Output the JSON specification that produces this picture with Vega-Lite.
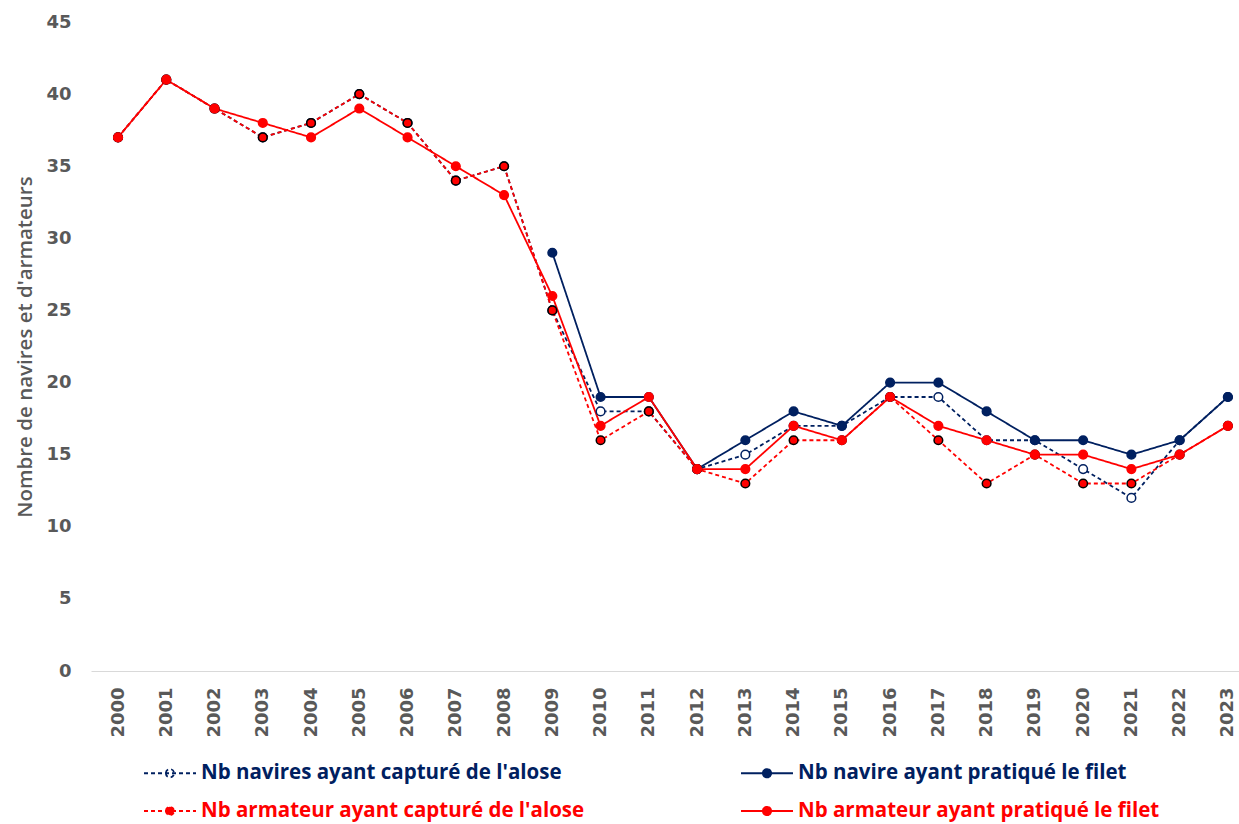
{
  "$schema": "https://vega.github.io/schema/vega-lite/v6.json",
  "width": 1148,
  "height": 649,
  "autosize": "none",
  "padding": {"left": 91, "top": 22, "right": 0, "bottom": 153},
  "background": "white",
  "config": {"view": {"stroke": null}},
  "data": {"values": [
    {"year": 2000, "s": "Nb navires ayant capturé de l'alose", "v": 37},
    {"year": 2001, "s": "Nb navires ayant capturé de l'alose", "v": 41},
    {"year": 2002, "s": "Nb navires ayant capturé de l'alose", "v": 39},
    {"year": 2003, "s": "Nb navires ayant capturé de l'alose", "v": 37},
    {"year": 2004, "s": "Nb navires ayant capturé de l'alose", "v": 38},
    {"year": 2005, "s": "Nb navires ayant capturé de l'alose", "v": 40},
    {"year": 2006, "s": "Nb navires ayant capturé de l'alose", "v": 38},
    {"year": 2007, "s": "Nb navires ayant capturé de l'alose", "v": 34},
    {"year": 2008, "s": "Nb navires ayant capturé de l'alose", "v": 35},
    {"year": 2009, "s": "Nb navires ayant capturé de l'alose", "v": 25},
    {"year": 2010, "s": "Nb navires ayant capturé de l'alose", "v": 18},
    {"year": 2011, "s": "Nb navires ayant capturé de l'alose", "v": 18},
    {"year": 2012, "s": "Nb navires ayant capturé de l'alose", "v": 14},
    {"year": 2013, "s": "Nb navires ayant capturé de l'alose", "v": 15},
    {"year": 2014, "s": "Nb navires ayant capturé de l'alose", "v": 17},
    {"year": 2015, "s": "Nb navires ayant capturé de l'alose", "v": 17},
    {"year": 2016, "s": "Nb navires ayant capturé de l'alose", "v": 19},
    {"year": 2017, "s": "Nb navires ayant capturé de l'alose", "v": 19},
    {"year": 2018, "s": "Nb navires ayant capturé de l'alose", "v": 16},
    {"year": 2019, "s": "Nb navires ayant capturé de l'alose", "v": 16},
    {"year": 2020, "s": "Nb navires ayant capturé de l'alose", "v": 14},
    {"year": 2021, "s": "Nb navires ayant capturé de l'alose", "v": 12},
    {"year": 2022, "s": "Nb navires ayant capturé de l'alose", "v": 16},
    {"year": 2023, "s": "Nb navires ayant capturé de l'alose", "v": 19},
    {"year": 2009, "s": "Nb navire ayant pratiqué le filet", "v": 29},
    {"year": 2010, "s": "Nb navire ayant pratiqué le filet", "v": 19},
    {"year": 2011, "s": "Nb navire ayant pratiqué le filet", "v": 19},
    {"year": 2012, "s": "Nb navire ayant pratiqué le filet", "v": 14},
    {"year": 2013, "s": "Nb navire ayant pratiqué le filet", "v": 16},
    {"year": 2014, "s": "Nb navire ayant pratiqué le filet", "v": 18},
    {"year": 2015, "s": "Nb navire ayant pratiqué le filet", "v": 17},
    {"year": 2016, "s": "Nb navire ayant pratiqué le filet", "v": 20},
    {"year": 2017, "s": "Nb navire ayant pratiqué le filet", "v": 20},
    {"year": 2018, "s": "Nb navire ayant pratiqué le filet", "v": 18},
    {"year": 2019, "s": "Nb navire ayant pratiqué le filet", "v": 16},
    {"year": 2020, "s": "Nb navire ayant pratiqué le filet", "v": 16},
    {"year": 2021, "s": "Nb navire ayant pratiqué le filet", "v": 15},
    {"year": 2022, "s": "Nb navire ayant pratiqué le filet", "v": 16},
    {"year": 2023, "s": "Nb navire ayant pratiqué le filet", "v": 19},
    {"year": 2000, "s": "Nb armateur ayant capturé de l'alose", "v": 37},
    {"year": 2001, "s": "Nb armateur ayant capturé de l'alose", "v": 41},
    {"year": 2002, "s": "Nb armateur ayant capturé de l'alose", "v": 39},
    {"year": 2003, "s": "Nb armateur ayant capturé de l'alose", "v": 37},
    {"year": 2004, "s": "Nb armateur ayant capturé de l'alose", "v": 38},
    {"year": 2005, "s": "Nb armateur ayant capturé de l'alose", "v": 40},
    {"year": 2006, "s": "Nb armateur ayant capturé de l'alose", "v": 38},
    {"year": 2007, "s": "Nb armateur ayant capturé de l'alose", "v": 34},
    {"year": 2008, "s": "Nb armateur ayant capturé de l'alose", "v": 35},
    {"year": 2009, "s": "Nb armateur ayant capturé de l'alose", "v": 25},
    {"year": 2010, "s": "Nb armateur ayant capturé de l'alose", "v": 16},
    {"year": 2011, "s": "Nb armateur ayant capturé de l'alose", "v": 18},
    {"year": 2012, "s": "Nb armateur ayant capturé de l'alose", "v": 14},
    {"year": 2013, "s": "Nb armateur ayant capturé de l'alose", "v": 13},
    {"year": 2014, "s": "Nb armateur ayant capturé de l'alose", "v": 16},
    {"year": 2015, "s": "Nb armateur ayant capturé de l'alose", "v": 16},
    {"year": 2016, "s": "Nb armateur ayant capturé de l'alose", "v": 19},
    {"year": 2017, "s": "Nb armateur ayant capturé de l'alose", "v": 16},
    {"year": 2018, "s": "Nb armateur ayant capturé de l'alose", "v": 13},
    {"year": 2019, "s": "Nb armateur ayant capturé de l'alose", "v": 15},
    {"year": 2020, "s": "Nb armateur ayant capturé de l'alose", "v": 13},
    {"year": 2021, "s": "Nb armateur ayant capturé de l'alose", "v": 13},
    {"year": 2022, "s": "Nb armateur ayant capturé de l'alose", "v": 15},
    {"year": 2023, "s": "Nb armateur ayant capturé de l'alose", "v": 17},
    {"year": 2000, "s": "Nb armateur ayant pratiqué le filet", "v": 37},
    {"year": 2001, "s": "Nb armateur ayant pratiqué le filet", "v": 41},
    {"year": 2002, "s": "Nb armateur ayant pratiqué le filet", "v": 39},
    {"year": 2003, "s": "Nb armateur ayant pratiqué le filet", "v": 38},
    {"year": 2004, "s": "Nb armateur ayant pratiqué le filet", "v": 37},
    {"year": 2005, "s": "Nb armateur ayant pratiqué le filet", "v": 39},
    {"year": 2006, "s": "Nb armateur ayant pratiqué le filet", "v": 37},
    {"year": 2007, "s": "Nb armateur ayant pratiqué le filet", "v": 35},
    {"year": 2008, "s": "Nb armateur ayant pratiqué le filet", "v": 33},
    {"year": 2009, "s": "Nb armateur ayant pratiqué le filet", "v": 26},
    {"year": 2010, "s": "Nb armateur ayant pratiqué le filet", "v": 17},
    {"year": 2011, "s": "Nb armateur ayant pratiqué le filet", "v": 19},
    {"year": 2012, "s": "Nb armateur ayant pratiqué le filet", "v": 14},
    {"year": 2013, "s": "Nb armateur ayant pratiqué le filet", "v": 14},
    {"year": 2014, "s": "Nb armateur ayant pratiqué le filet", "v": 17},
    {"year": 2015, "s": "Nb armateur ayant pratiqué le filet", "v": 16},
    {"year": 2016, "s": "Nb armateur ayant pratiqué le filet", "v": 19},
    {"year": 2017, "s": "Nb armateur ayant pratiqué le filet", "v": 17},
    {"year": 2018, "s": "Nb armateur ayant pratiqué le filet", "v": 16},
    {"year": 2019, "s": "Nb armateur ayant pratiqué le filet", "v": 15},
    {"year": 2020, "s": "Nb armateur ayant pratiqué le filet", "v": 15},
    {"year": 2021, "s": "Nb armateur ayant pratiqué le filet", "v": 14},
    {"year": 2022, "s": "Nb armateur ayant pratiqué le filet", "v": 15},
    {"year": 2023, "s": "Nb armateur ayant pratiqué le filet", "v": 17}
  ]},
  "encoding": {
    "x": {
      "field": "year", "type": "quantitative",
      "scale": {"domain": [1999.44, 2023.23], "nice": false, "zero": false},
      "axis": {
        "title": null, "grid": false, "ticks": false,
        "values": [2000,2001,2002,2003,2004,2005,2006,2007,2008,2009,2010,2011,2012,2013,2014,2015,2016,2017,2018,2019,2020,2021,2022,2023],
        "format": "d", "labelAngle": 270, "labelPadding": 16,
        "labelFont": "DejaVu Sans", "labelFontWeight": "bold", "labelFontSize": 18, "labelColor": "#595959",
        "domainColor": "#d9d9d9", "domainWidth": 1, "labelOverlap": false
      }
    },
    "y": {
      "field": "v", "type": "quantitative",
      "scale": {"domain": [0, 45], "nice": false},
      "axis": {
        "title": "Nombre de navires et d'armateurs",
        "values": [0,5,10,15,20,25,30,35,40,45],
        "grid": false, "ticks": false, "domain": false, "labelPadding": 20,
        "labelFont": "DejaVu Sans", "labelFontWeight": "bold", "labelFontSize": 18, "labelColor": "#595959",
        "titleFont": "Open Sans", "titleFontSize": 20.5, "titleFontWeight": 600, "titleColor": "#595959", "titlePadding": 10
      }
    }
  },
  "layer": [
    {
      "mark": {"type": "line", "strokeWidth": 1.8},
      "encoding": {
        "color": {
          "field": "s", "type": "nominal",
          "scale": {
            "domain": ["Nb navires ayant capturé de l'alose", "Nb navire ayant pratiqué le filet", "Nb armateur ayant capturé de l'alose", "Nb armateur ayant pratiqué le filet"],
            "range": ["#002060", "#002060", "#FF0000", "#FF0000"]
          },
          "legend": {
            "title": null, "orient": "none", "legendX": 52, "legendY": 724, "direction": "horizontal",
            "columns": 2, "columnPadding": 152, "rowPadding": -14,
            "symbolType": "M-1,0H1M-0.16,0A0.16,0.16 0 1,0 0.16,0A0.16,0.16 0 1,0 -0.16,0",
            "symbolSize": 2700, "symbolStrokeWidth": 1.8, "symbolOffset": 0,
            "labelFont": "Open Sans", "labelFontSize": 20.5, "labelFontWeight": "bold", "labelLimit": 600, "labelOffset": 4,
            "encode": {
              "labels": {"update": {"fill": {"signal": "indexof(datum.value, 'armateur') >= 0 ? '#FF0000' : '#002060'"}}},
              "symbols": {"update": {"fill": {"signal": "datum.value == \"Nb navires ayant capturé de l'alose\" ? 'white' : (indexof(datum.value, 'armateur') >= 0 ? '#FF0000' : '#002060')"}, "opacity": {"value": 1}}}
            }
          }
        },
        "strokeDash": {
          "field": "s", "type": "nominal",
          "scale": {
            "domain": ["Nb navires ayant capturé de l'alose", "Nb navire ayant pratiqué le filet", "Nb armateur ayant capturé de l'alose", "Nb armateur ayant pratiqué le filet"],
            "range": [[4, 3], [1, 0], [4, 3], [1, 0]]
          },
          "legend": null
        }
      }
    },
    {
      "mark": {"type": "point", "filled": true, "size": 75, "opacity": 1, "strokeWidth": 1.5},
      "encoding": {
        "fill": {
          "field": "s", "type": "nominal",
          "scale": {
            "domain": ["Nb navires ayant capturé de l'alose", "Nb navire ayant pratiqué le filet", "Nb armateur ayant capturé de l'alose", "Nb armateur ayant pratiqué le filet"],
            "range": ["#FFFFFF", "#002060", "#FF0000", "#FF0000"]
          },
          "legend": null
        },
        "stroke": {
          "field": "s", "type": "nominal",
          "scale": {
            "domain": ["Nb navires ayant capturé de l'alose", "Nb navire ayant pratiqué le filet", "Nb armateur ayant capturé de l'alose", "Nb armateur ayant pratiqué le filet"],
            "range": ["#002060", "#002060", "#000000", "#FF0000"]
          },
          "legend": null
        }
      }
    }
  ]
}
